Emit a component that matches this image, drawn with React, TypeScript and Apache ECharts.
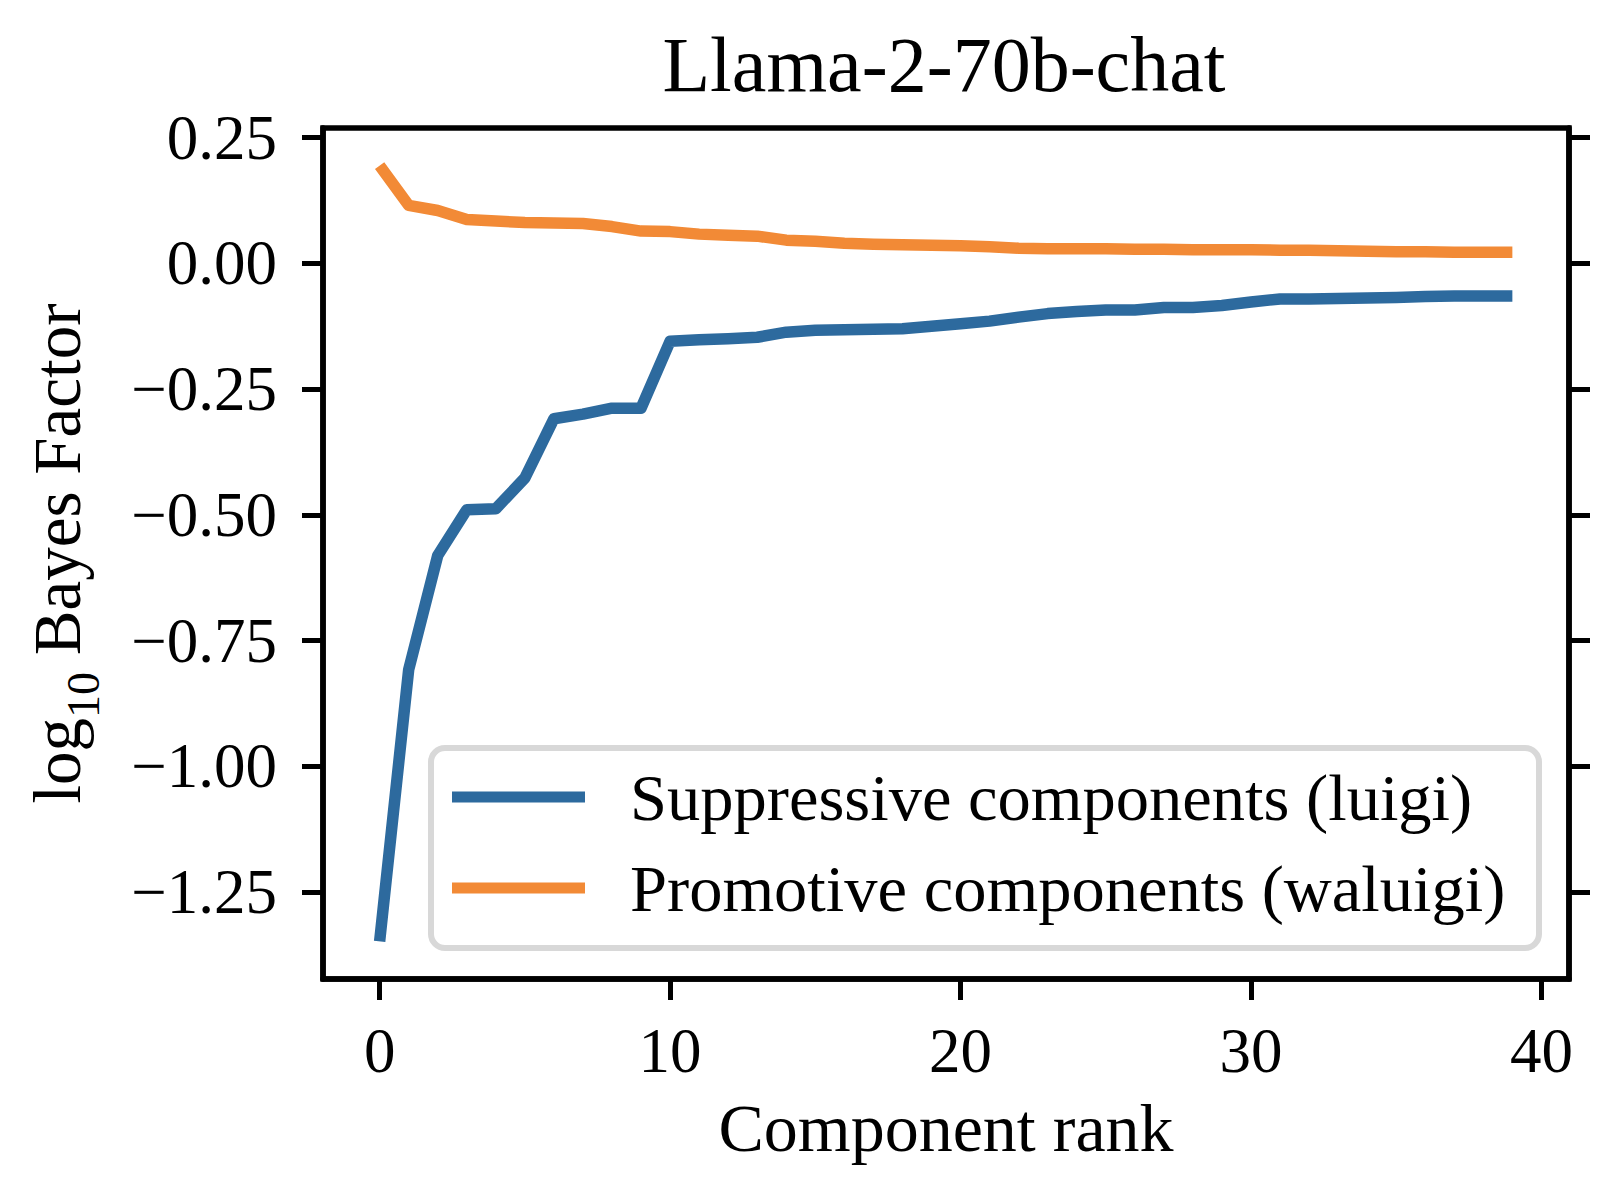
import React, { useEffect, useRef } from "react";
import * as echarts from "echarts";

const TITLE = "Llama-2-70b-chat";
const SERIES_NAMES = ["Suppressive components (luigi)", "Promotive components (waluigi)"];

const suppressive = [
  -1.348, -0.808, -0.581, -0.490, -0.488, -0.427, -0.309, -0.300, -0.288, -0.288,
  -0.155, -0.152, -0.150, -0.147, -0.137, -0.133, -0.132, -0.131, -0.130, -0.125,
  -0.120, -0.115, -0.107, -0.100, -0.096, -0.093, -0.093, -0.088, -0.088, -0.084,
  -0.077, -0.071, -0.071, -0.070, -0.069, -0.068, -0.066, -0.065, -0.065, -0.065,
];

const promotive = [
  0.194, 0.115, 0.105, 0.087, 0.084, 0.081, 0.080, 0.079, 0.073, 0.064,
  0.063, 0.058, 0.056, 0.054, 0.046, 0.044, 0.040, 0.038, 0.037, 0.036,
  0.035, 0.033, 0.030, 0.029, 0.029, 0.029, 0.028, 0.028, 0.027, 0.027,
  0.027, 0.026, 0.026, 0.025, 0.024, 0.023, 0.023, 0.022, 0.022, 0.022,
];

const xTicks = [0, 10, 20, 30, 40];
const yTicks = [0.25, 0.0, -0.25, -0.5, -0.75, -1.0, -1.25];

const BLUE = "#2d6a9e";
const ORANGE = "#f28a36";
const FONT = "Liberation Serif";

function fmtY(v: number) {
  const s = Math.abs(v).toFixed(2);
  return v < -1e-9 ? "\u2212" + s : s;
}

export default function App() {
  const ref = useRef<HTMLDivElement>(null);
  useEffect(() => {
    if (!ref.current) return;
    const chart = echarts.init(ref.current, undefined, { renderer: "svg" });
    const tickStyle = { show: true, inside: false, length: 21, lineStyle: { color: "#000", width: 5 } };
    const spine = { show: true, onZero: false, lineStyle: { color: "#000", width: 5.5 } };
    chart.setOption({
      animation: false,
      backgroundColor: "#fff",
      title: {
        text: TITLE,
        left: 944,
        top: 25,
        textAlign: "center",
        padding: 0,
        textStyle: { fontFamily: FONT, fontSize: 78, fontWeight: "normal", color: "#000", lineHeight: 78 },
      },
      grid: {
        left: 316,
        right: 47,
        top: 128,
        bottom: 207,
        show: true,
        borderColor: "#000",
        borderWidth: 5.5,
        backgroundColor: "transparent",
      },
      graphic: [
        {
          type: "rect",
          z: 3,
          shape: { x: 431, y: 748, width: 1108, height: 200, r: 14 },
          style: { fill: "rgba(255,255,255,0.8)", stroke: "#d8d8d8", lineWidth: 6 },
        },
      ],
      legend: {
        z: 10,
        orient: "vertical",
        left: 452,
        top: 762,
        padding: 0,
        itemWidth: 133,
        itemHeight: 11,
        itemGap: 21,
        icon: "rect",
        data: SERIES_NAMES,
        textStyle: {
          fontFamily: FONT,
          fontSize: 66.5,
          lineHeight: 70,
          color: "#000",
          padding: [0, 0, 0, 40],
        },
      },
      xAxis: {
        type: "value",
        min: -1.95,
        max: 40.95,
        name: "Component rank",
        nameLocation: "middle",
        nameGap: 115,
        nameTextStyle: { fontFamily: FONT, fontSize: 68, color: "#000", lineHeight: 68 },
        axisLine: spine,
        axisTick: { ...tickStyle, customValues: xTicks },
        axisLabel: {
          customValues: xTicks,
          margin: 40,
          fontFamily: FONT,
          fontSize: 63,
          lineHeight: 63,
          color: "#000",
          formatter: (v: number) => String(Math.round(v)),
        },
        splitLine: { show: false },
      },
      yAxis: [
        {
          type: "value",
          position: "left",
          min: -1.423,
          max: 0.269,
          name: "log{sub|10} Bayes Factor",
          nameLocation: "middle",
          nameRotate: 90,
          nameGap: 217,
          nameTextStyle: {
            fontFamily: FONT,
            fontSize: 67,
            lineHeight: 98,
            color: "#000",
            rich: {
              sub: { fontFamily: FONT, fontSize: 46, lineHeight: 46, verticalAlign: "bottom", color: "#000" },
            },
          },
          axisLine: spine,
          axisTick: { ...tickStyle, customValues: yTicks },
          axisLabel: {
            customValues: yTicks,
            margin: 46,
            fontFamily: FONT,
            fontSize: 63,
            color: "#000",
            formatter: (v: number) => fmtY(v),
          },
          splitLine: { show: false },
        },
        {
          type: "value",
          position: "right",
          min: -1.423,
          max: 0.269,
          axisLine: spine,
          axisTick: { ...tickStyle, customValues: yTicks },
          axisLabel: { show: false, customValues: yTicks },
          splitLine: { show: false },
        },
      ],
      series: [
        {
          name: SERIES_NAMES[0],
          type: "line",
          yAxisIndex: 0,
          data: suppressive.map((v, i) => [i, v]),
          showSymbol: false,
          color: BLUE,
          lineStyle: { color: BLUE, width: 11.5, cap: "butt", join: "round" },
          z: 2,
        },
        {
          name: SERIES_NAMES[1],
          type: "line",
          yAxisIndex: 0,
          data: promotive.map((v, i) => [i, v]),
          showSymbol: false,
          color: ORANGE,
          lineStyle: { color: ORANGE, width: 11.5, cap: "butt", join: "round" },
          z: 2,
        },
      ],
    });
    return () => chart.dispose();
  }, []);
  return (
    <div
      ref={ref}
      style={{ position: "absolute", left: 0, top: 0, width: 1616, height: 1186, background: "#fff" }}
    />
  );
}
